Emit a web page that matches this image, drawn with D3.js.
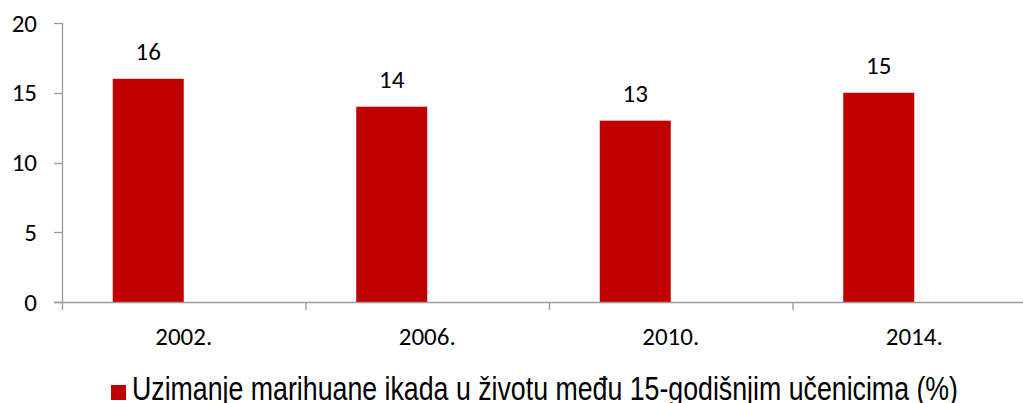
<!DOCTYPE html>
<html>
<head>
<meta charset="utf-8">
<script src="https://cdn.jsdelivr.net/npm/d3@7"></script>
<style>
  body { margin: 0; background: #fff; overflow: hidden; }
</style>
</head>
<body>
<div id="chart"></div>
<script>
const years = ['2002.', '2006.', '2010.', '2014.']
const values = [16, 14, 13, 15]
const yTicks = [0, 5, 10, 15, 20]
const seriesName = 'Uzimanje marihuane ikada u životu među 15-godišnjim učenicima (%)'

const WIDTH = 1023
const HEIGHT = 403
const X0 = 62
const BAND = 243.5
const BAR_W = 71
const BAR_COLOR = '#C00000'
const AXIS_COLOR = '#9A9A9A'
const LABEL_FONT = 'Carlito, "Open Sans", "Noto Sans", sans-serif'

const svg = d3.select('#chart')
    .append('svg')
    .attr('width', WIDTH)
    .attr('height', HEIGHT)

const y = d3.scaleLinear()
    .domain([0, 20])
    .range([302, 23])

const x = d3.scaleBand()
    .domain(years)
    .range([X0, X0 + BAND * years.length])

// bars sit on the left half of each band (second series slot is empty)
const barX = d => x(d) + (BAND - 2 * BAR_W) / 2

/**
 * Y axis
 */
svg.append('line')
    .attr('x1', X0 + 0.5).attr('x2', X0 + 0.5)
    .attr('y1', y(20)).attr('y2', y(0))
    .attr('stroke', AXIS_COLOR)
    .attr('stroke-width', 1.3)

svg.selectAll('.ytick')
    .data(yTicks)
    .enter()
    .append('line')
    .attr('x1', X0 - 8).attr('x2', X0)
    .attr('y1', d => Math.round(y(d)) + 0.5)
    .attr('y2', d => Math.round(y(d)) + 0.5)
    .attr('stroke', AXIS_COLOR)
    .attr('stroke-width', 1.3)

svg.selectAll('.ylabel')
    .data(yTicks)
    .enter()
    .append('text')
    .attr('x', 37)
    .attr('y', d => y(d) + 8.5)
    .attr('text-anchor', 'end')
    .attr('font-family', LABEL_FONT)
    .attr('font-size', '25px')
    .attr('fill', '#000')
    .text(d => d)

/**
 * Bars
 */
svg.selectAll('.bar')
    .data(values)
    .enter()
    .append('rect')
    .attr('x', (d, i) => barX(years[i]))
    .attr('y', d => y(d))
    .attr('width', BAR_W)
    .attr('height', d => y(0) - y(d))
    .attr('fill', BAR_COLOR)

svg.selectAll('.vlabel')
    .data(values)
    .enter()
    .append('text')
    .attr('x', (d, i) => barX(years[i]) + BAR_W / 2)
    .attr('y', d => y(d) - 19)
    .attr('text-anchor', 'middle')
    .attr('font-family', LABEL_FONT)
    .attr('font-size', '25px')
    .attr('fill', '#000')
    .text(d => d)

/**
 * X axis
 */
svg.append('line')
    .attr('x1', X0 - 8).attr('x2', WIDTH)
    .attr('y1', Math.round(y(0)) + 0.5).attr('y2', Math.round(y(0)) + 0.5)
    .attr('stroke', AXIS_COLOR)
    .attr('stroke-width', 1.3)

svg.selectAll('.xtick')
    .data(years)
    .enter()
    .append('line')
    .attr('x1', d => x(d) + 0.5).attr('x2', d => x(d) + 0.5)
    .attr('y1', y(0)).attr('y2', y(0) + 8)
    .attr('stroke', AXIS_COLOR)
    .attr('stroke-width', 1.3)

svg.selectAll('.xlabel')
    .data(years)
    .enter()
    .append('text')
    .attr('x', d => x(d) + BAND / 2)
    .attr('y', 345)
    .attr('text-anchor', 'middle')
    .attr('font-family', LABEL_FONT)
    .attr('font-size', '25px')
    .attr('fill', '#000')
    .text(d => d)

/**
 * Legend
 */
svg.append('rect')
    .attr('x', 111)
    .attr('y', 385)
    .attr('width', 15)
    .attr('height', 15)
    .attr('fill', BAR_COLOR)

svg.append('text')
    .attr('x', 132)
    .attr('y', 400)
    .attr('font-family', '"Liberation Sans", Arial, sans-serif')
    .attr('font-size', '34px')
    .attr('textLength', 826)
    .attr('lengthAdjust', 'spacingAndGlyphs')
    .attr('fill', '#000')
    .text(seriesName)
</script>
</body>
</html>
